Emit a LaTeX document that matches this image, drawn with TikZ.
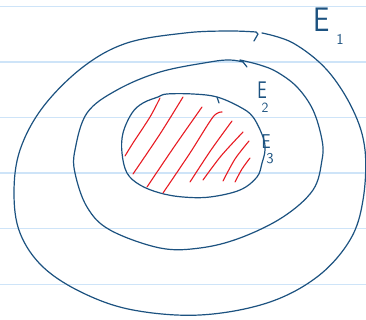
\documentclass[tikz,border=0pt]{standalone}
\definecolor{ink}{RGB}{28,82,128}
\definecolor{redink}{RGB}{232,28,36}
\definecolor{rule}{RGB}{206,228,248}
\begin{document}
\begin{tikzpicture}[x=1pt,y=-1pt,
  ruled/.style={draw=rule,line width=1.4pt},
  curve/.style={draw=ink,line width=1.2pt,line cap=round,line join=round},
  hatch/.style={draw=redink,line width=1.1pt,line cap=round},
  lab/.style={text=ink,inner sep=0pt,font=\sffamily}]
\useasboundingbox (0,0) rectangle (366,320);
\fill[white] (0,0) rectangle (366,320);
% notebook rules
\foreach \yy in {6.5,62,117.5,173,228.5,284.5}
  \draw[ruled] (0,\yy) -- (366,\yy);
% outer curve E1
\draw[curve] plot[smooth,tension=0.6] coordinates {
 (262,33) (293,43) (327,70) (353,110) (365,150) (363,200) (350,240)
 (317,277) (267,303) (200,315) (133,310) (83,293) (43,267) (20,233)
 (14,193) (20,150) (43,107) (83,67) (127,43) (185,33) (228,31) (256,32)};
\draw[curve] (256,32) -- (258,34) -- (254,41);
% middle curve E2
\draw[curve] plot[smooth,tension=0.6] coordinates {
 (240,60) (260,65) (277,72) (297,87) (313,110) (322,140) (322,160)
 (313,190) (283,217) (240,238) (200,248) (160,248) (110,230) (87,207)
 (75,173) (75,150) (87,113) (117,90) (160,72) (210,62) (230,60) (243,62)};
\draw[curve] (243,62) -- (247,67);
% inner curve E3
\draw[curve] plot[smooth cycle,tension=0.6] coordinates {
 (167,94) (193,94) (217,97) (240,107) (253,117) (263,137) (265,150)
 (262,163) (257,177) (240,190) (210,197) (183,197) (160,193) (140,185)
 (127,173) (122,153) (123,133) (132,113) (143,103) (158,97)};
\draw[curve] (217,97) -- (219,103);
% red hatching
\draw[hatch] plot[smooth] coordinates {(125,156) (133,143) (150,117) (160,98)};
\draw[hatch] plot[smooth] coordinates {(133,174) (160,134) (183,97)};
\draw[hatch] plot[smooth] coordinates {(147,187) (174,147) (202,107)};
\draw[hatch] plot[smooth] coordinates {(163,193) (190,153) (213,117) (222,112)};
\draw[hatch] plot[smooth] coordinates {(190,182) (211,150) (232,121)};
\draw[hatch] plot[smooth] coordinates {(203,180) (221,156) (243,132)};
\draw[hatch] plot[smooth] coordinates {(223,181) (235,159) (249,141)};
\draw[hatch] plot[smooth] coordinates {(235,182) (242,169) (250,158)};
% labels
\node[lab,xscale=0.85,font=\sffamily\fontsize{34}{34}\selectfont] (e1) at (322,20) {E};
\node[lab,font=\sffamily\fontsize{15}{15}\selectfont] (d1) at (340,39) {1};
\node[lab,xscale=0.7,font=\sffamily\fontsize{24}{24}\selectfont] (e2) at (262,90) {E};
\node[lab,font=\sffamily\fontsize{14}{14}\selectfont] (d2) at (265,108) {2};
\node[lab,xscale=0.8,font=\sffamily\fontsize{20}{20}\selectfont] (e3) at (266,142) {E};
\node[lab,font=\sffamily\fontsize{15}{15}\selectfont] (d3) at (270,159) {3};
\end{tikzpicture}
\end{document}
